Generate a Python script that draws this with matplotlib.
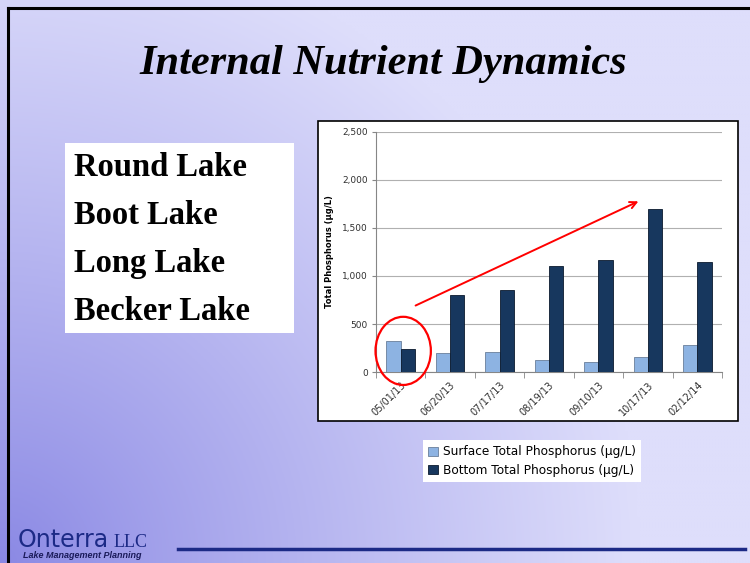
import numpy as np
import matplotlib.pyplot as plt
from matplotlib.patches import Rectangle, Ellipse, Patch
from matplotlib.lines import Line2D

# Data
dates = ['05/01/13', '06/20/13', '07/17/13', '08/19/13', '09/10/13', '10/17/13', '02/12/14']
surface_tp = [320, 200, 210, 125, 100, 155, 280]
bottom_tp = [240, 800, 855, 1105, 1165, 1700, 1145]
lakes = ['Round Lake', 'Boot Lake', 'Long Lake', 'Becker Lake']

W, H = 750, 563
fig = plt.figure(figsize=(7.5, 5.63), dpi=100)

def fx(px):
    return px / W

def fy(py):
    return 1 - py / H

# Slide background: darker towards the lower-left corner
bg = fig.add_axes([0, 0, 1, 1])
bg.set_zorder(-10)
gx, gy = np.meshgrid(np.linspace(0, W, 250), np.linspace(0, H, 190))
t = np.clip(np.hypot(gx, H - gy) / 640, 0, 1) ** 0.9
dark = np.array([138, 136, 228]) / 255
light = np.array([222, 222, 251]) / 255
img = dark[None, None, :] * (1 - t[..., None]) + light[None, None, :] * t[..., None]
bg.imshow(img, extent=[0, 1, 0, 1], aspect='auto', origin='upper')
bg.set_xlim(0, 1)
bg.set_ylim(0, 1)
bg.axis('off')

# Slide frame
fig.add_artist(Line2D([fx(8), fx(8)], [0, fy(8)], color='black', lw=2.2))
fig.add_artist(Line2D([fx(8), 1], [fy(8), fy(8)], color='black', lw=2.2))

# Title
fig.text(fx(383), fy(64), 'Internal Nutrient Dynamics', ha='center', va='center',
         family='Liberation Serif', weight='bold', style='italic', size=30.5)

# Lake list box
fig.add_artist(Rectangle((fx(65), fy(333)), fx(229), 190 / H, transform=fig.transFigure,
                         facecolor='white', edgecolor='none', zorder=-5))
for i, name in enumerate(lakes):
    fig.text(fx(74), fy(168 + 47.7 * i), name, ha='left', va='center',
             family='Liberation Serif', weight='bold', size=23.5)

# Chart box
fig.add_artist(Rectangle((fx(318), fy(421)), fx(420), 300 / H, transform=fig.transFigure,
                         facecolor='white', edgecolor='black', lw=1.2, zorder=-5))

ax = fig.add_axes([fx(376), fy(372), fx(722 - 376), (372 - 132) / H])
ax.set_facecolor('white')
x = np.arange(len(dates))
bw = 0.29
ax.bar(x - bw / 2, surface_tp, bw, color='#8db3e2', edgecolor='#6a7f9a', lw=0.6, zorder=3)
ax.bar(x + bw / 2, bottom_tp, bw, color='#17375e', edgecolor='#0b1a2e', lw=0.6, zorder=3)

ax.set_xlim(-0.5, len(dates) - 0.5)
ax.set_ylim(0, 2500)
ax.set_yticks([0, 500, 1000, 1500, 2000, 2500])
ax.set_yticklabels(['0', '500', '1,000', '1,500', '2,000', '2,500'])
ax.yaxis.grid(True, color='#b0b0b0', lw=0.8, zorder=0)
ax.set_xticks(x)
ax.set_xticklabels(dates, rotation=45, ha='right', rotation_mode='anchor')
ax.set_xticks(np.arange(-0.5, len(dates)), minor=True)
ax.tick_params(axis='x', which='major', length=0, labelsize=7, colors='#303030', pad=6)
ax.tick_params(axis='x', which='minor', length=4, color='#868686')
ax.tick_params(axis='y', length=3, color='#868686', labelsize=6.5, labelcolor='#303030', pad=3)
for s in ['top', 'right']:
    ax.spines[s].set_visible(False)
for s in ['left', 'bottom']:
    ax.spines[s].set_color('#868686')
ax.set_ylabel('Total Phosphorus (\u00b5g/L)', fontsize=6, weight='bold', labelpad=6)

# Red annotation: circle around first date and rising arrow
ax.add_patch(Ellipse((0.05, 220), 1.12, 710, fill=False, edgecolor='red', lw=1.6,
                     clip_on=False, zorder=5))
ax.annotate('', xy=(4.86, 1790), xytext=(0.25, 680),
            arrowprops=dict(arrowstyle='->', color='red', lw=1.4, mutation_scale=12),
            annotation_clip=False, zorder=5)

# Legend below the chart
handles = [Patch(facecolor='#8db3e2', edgecolor='#6a7f9a', lw=0.6),
           Patch(facecolor='#17375e', edgecolor='#0b1a2e', lw=0.6)]
leg = fig.legend(handles, ['Surface Total Phosphorus (\u00b5g/L)', 'Bottom Total Phosphorus (\u00b5g/L)'],
                 loc='upper left', bbox_to_anchor=(fx(417), fy(434)), fontsize=8.7,
                 frameon=True, fancybox=False, handlelength=0.8, handleheight=0.8,
                 handletextpad=0.4, borderpad=0.45, labelspacing=0.45)
leg.get_frame().set_facecolor('white')
leg.get_frame().set_edgecolor('none')
leg.get_frame().set_alpha(1)

# Footer logo and rule
navy = '#1c2a86'
fig.text(fx(18), fy(547), 'Onterra', ha='left', va='baseline', color=navy,
         family=['Liberation Sans Narrow', 'DejaVu Sans'], size=17)
fig.text(fx(114), fy(547), 'LLC', ha='left', va='baseline', color=navy,
         family=['Liberation Serif', 'DejaVu Serif'], size=13)
fig.text(fx(23), fy(555), 'Lake Management Planning', ha='left', va='center', color='#1a1a5a',
         family='Liberation Sans', weight='bold', style='italic', size=6.5)
fig.add_artist(Line2D([fx(178), fx(745)], [fy(549), fy(549)], color=navy, lw=2.5))

fig.savefig('out.png', dpi=100)
